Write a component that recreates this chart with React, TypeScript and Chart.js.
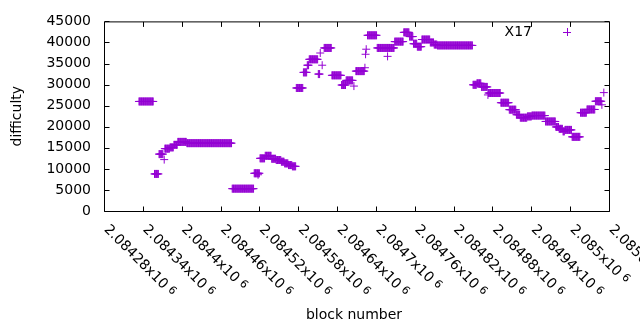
import React, { useEffect, useRef } from "react";
import { Chart, registerables } from "chart.js";

Chart.register(...registerables);

// Runs of constant difficulty: first block, last block, difficulty
const runStart = [
  2084334, 2084358, 2084365, 2084373, 2084374, 2084382, 2084388, 2084394, 2084408, 2084478,
  2084512, 2084518, 2084521, 2084529, 2084539, 2084546, 2084554, 2084559, 2084565, 2084571,
  2084577, 2084588, 2084594, 2084597, 2084611, 2084614, 2084617, 2084620, 2084632, 2084647,
  2084654, 2084666, 2084669, 2084683, 2084684, 2084685, 2084687, 2084702, 2084718, 2084729,
  2084743, 2084752, 2084758, 2084764, 2084771, 2084784, 2084790, 2084795, 2084850, 2084856,
  2084863, 2084873, 2084874, 2084893, 2084906, 2084917, 2084923, 2084934, 2084941, 2084962,
  2084978, 2084983, 2084989, 2084992, 2085003, 2085016, 2085026, 2085039, 2085049, 2085052,
];
const runEnd = [
  2084356, 2084364, 2084371, 2084373, 2084381, 2084387, 2084393, 2084407, 2084477, 2084511,
  2084520, 2084518, 2084528, 2084538, 2084545, 2084553, 2084558, 2084564, 2084570, 2084576,
  2084587, 2084593, 2084596, 2084610, 2084613, 2084614, 2084617, 2084631, 2084646, 2084653,
  2084664, 2084666, 2084682, 2084683, 2084684, 2084685, 2084701, 2084728, 2084718, 2084742,
  2084751, 2084757, 2084763, 2084770, 2084783, 2084789, 2084794, 2084849, 2084855, 2084862,
  2084872, 2084873, 2084892, 2084905, 2084916, 2084922, 2084933, 2084940, 2084961, 2084977,
  2084982, 2084988, 2084991, 2085002, 2085015, 2085025, 2085038, 2085048, 2085049, 2085052,
];
const runDifficulty = [
  26000, 8800, 13500, 12200, 14800, 15100, 15700, 16400, 16100, 5300,
  8950, 8600, 12500, 13100, 12400, 12100, 11700, 11300, 10900, 10600,
  29200, 32900, 34600, 36000, 32500, 37500, 34600, 38700, 32200, 29900,
  31000, 29650, 33200, 34000, 37200, 38400, 41700, 38700, 36700, 40200,
  42400, 41400, 39700, 39000, 40700, 40000, 39500, 39300, 29950, 30300,
  29450, 27550, 28000, 25700, 24050, 22850, 22150, 22450, 22650, 21250,
  19950, 19500, 18900, 19250, 17600, 23330, 24100, 26050, 25200, 28100,
];

const xTickValues = [
  2084280, 2084340, 2084400, 2084460, 2084520, 2084580, 2084640, 2084700,
  2084760, 2084820, 2084880, 2084940, 2085000, 2085060,
];
const yTickValues = [0, 5000, 10000, 15000, 20000, 25000, 30000, 35000, 40000, 45000];

const seriesName = "X17";
const xTitle = "block number";
const yTitle = "difficulty";

const COLOR = "#9400d3";
const FONT = "'DejaVu Sans', sans-serif";

function buildPoints() {
  const pts: { x: number; y: number }[] = [];
  for (let i = 0; i < runStart.length; i++) {
    for (let b = runStart[i]; b <= runEnd[i]; b++) {
      pts.push({ x: b, y: runDifficulty[i] });
    }
  }
  return pts;
}

function mantissa(v: number) {
  return parseFloat((v / 1e6).toFixed(5)).toString();
}

const framePlugin = {
  id: "gnuplotFrame",
  afterDraw(chart: any) {
    const { ctx, chartArea } = chart;
    const xs = chart.scales.x;
    const ys = chart.scales.y;
    const L = chartArea.left, R = chartArea.right, T = chartArea.top, B = chartArea.bottom;
    ctx.save();
    ctx.strokeStyle = "#000";
    ctx.lineWidth = 1;
    ctx.beginPath();
    ctx.rect(L + 0.5, T + 0.5, R - L, B - T);
    ctx.stroke();
    const tl = 5;
    ctx.beginPath();
    for (const v of xTickValues) {
      const px = Math.round(xs.getPixelForValue(v)) + 0.5;
      ctx.moveTo(px, B + 0.5);
      ctx.lineTo(px, B + 0.5 - tl);
      ctx.moveTo(px, T + 0.5);
      ctx.lineTo(px, T + 0.5 + tl);
    }
    for (const v of yTickValues) {
      const py = Math.round(ys.getPixelForValue(v)) + 0.5;
      ctx.moveTo(L + 0.5, py);
      ctx.lineTo(L + 0.5 + tl, py);
      ctx.moveTo(R + 0.5, py);
      ctx.lineTo(R + 0.5 - tl, py);
    }
    ctx.stroke();

    ctx.fillStyle = "#000";
    // rotated x tick labels
    for (const v of xTickValues) {
      const px = xs.getPixelForValue(v);
      const main = mantissa(v) + "x10";
      ctx.save();
      ctx.translate(px + 2, B + 16.5);
      ctx.rotate(Math.PI / 4);
      ctx.textAlign = "left";
      ctx.textBaseline = "middle";
      ctx.font = `14px ${FONT}`;
      ctx.fillText(main, 0, 0);
      const w = ctx.measureText(main).width;
      ctx.font = `11px ${FONT}`;
      ctx.fillText("6", w + 4, -2);
      ctx.restore();
    }

    // axis titles
    ctx.font = `14px ${FONT}`;
    ctx.textAlign = "center";
    ctx.textBaseline = "middle";
    ctx.fillText(xTitle, 354, 315);
    ctx.save();
    ctx.translate(17.5, (T + B) / 2);
    ctx.rotate(-Math.PI / 2);
    ctx.fillText(yTitle, 0, 0);
    ctx.restore();

    // key
    ctx.textAlign = "right";
    ctx.fillText(seriesName, 532, 32);
    ctx.strokeStyle = COLOR;
    ctx.beginPath();
    ctx.moveTo(563, 32.5);
    ctx.lineTo(571, 32.5);
    ctx.moveTo(567.5, 28);
    ctx.lineTo(567.5, 36);
    ctx.stroke();
    ctx.restore();
  },
};

export default function App() {
  const ref = useRef<HTMLCanvasElement>(null);
  useEffect(() => {
    if (!ref.current) return;
    const chart = new Chart(ref.current, {
      type: "scatter",
      data: {
        datasets: [
          {
            label: seriesName,
            data: buildPoints(),
            pointStyle: "cross",
            pointRadius: 4,
            pointHoverRadius: 4,
            borderColor: COLOR,
            backgroundColor: COLOR,
            borderWidth: 1,
          },
        ],
      },
      options: {
        responsive: false,
        animation: false,
        events: [],
        layout: { padding: { left: 0, top: 19, right: 31, bottom: 0 } },
        plugins: { legend: { display: false }, tooltip: { enabled: false } },
        scales: {
          x: {
            type: "linear",
            min: 2084280,
            max: 2085060,
            afterBuildTicks: (s: any) => {
              s.ticks = xTickValues.map((v) => ({ value: v }));
            },
            ticks: { display: false },
            grid: { display: false, drawTicks: false },
            border: { display: false },
            afterFit: (s: any) => {
              s.height = 119;
            },
          },
          y: {
            type: "linear",
            min: 0,
            max: 45000,
            afterBuildTicks: (s: any) => {
              s.ticks = yTickValues.map((v) => ({ value: v }));
            },
            ticks: {
              color: "#000",
              padding: 13,
              font: { family: FONT, size: 14 },
              callback: (v: any) => String(v),
            },
            grid: { display: false, drawTicks: false },
            border: { display: false },
            afterFit: (s: any) => {
              s.width = 104;
            },
          },
        },
      },
      plugins: [framePlugin],
    });
    return () => chart.destroy();
  }, []);
  return (
    <div style={{ position: "fixed", left: 0, top: 0, width: 640, height: 330, background: "#fff" }}>
      <canvas ref={ref} width={640} height={330} />
    </div>
  );
}
